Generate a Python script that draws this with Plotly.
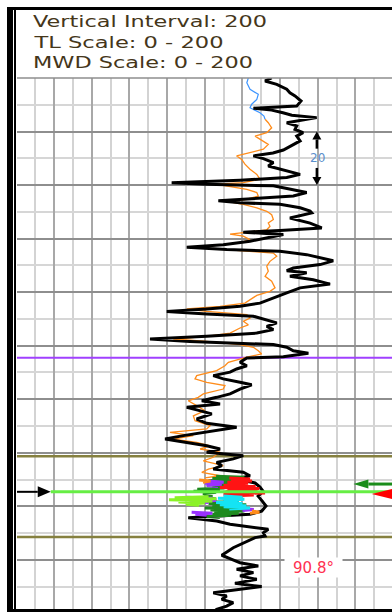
import json
import plotly.graph_objects as go

# ---------------- log data ----------------
# depth in ft below the top of the 200 ft window, gamma ray in API (0 - 200)

# MWD gamma ray (black)
mwd_depth = [
    0.0, 1.1, 2.35, 4.2, 5.5, 6.7, 8.6, 10.5, 11.3, 12.0,
    13.0, 13.9, 14.8, 16.1, 16.7, 17.9, 19.2, 20.4, 21.7, 23.5,
    25.4, 26.9, 28.0, 29.1, 30.1, 31.6, 32.9, 34.1, 35.4, 36.0,
    37.2, 38.2, 39.1, 39.7, 40.3, 42.2, 42.8, 44.1, 45.9, 46.6,
    47.2, 48.5, 49.7, 50.4, 52.3, 54.2, 56.0, 57.0, 57.6, 58.5,
    59.8, 61.0, 62.3, 63.2, 64.1, 64.7, 66.0, 67.2, 68.3, 69.7,
    71.0, 72.0, 72.8, 74.1, 75.4, 77.0, 78.4, 80.3, 82.2, 84.1,
    85.3, 86.3, 87.2, 88.2, 89.0, 90.3, 91.5, 92.8, 94.0, 95.3,
    96.5, 97.5, 98.4, 99.6, 100.6, 101.9, 102.8, 104.1, 104.6, 106.2,
    107.5, 108.7, 109.9, 111.2, 112.4, 113.7, 114.6, 116.2, 118.0, 119.3,
    120.6, 121.8, 123.0, 124.0, 125.5, 127.4, 129.0, 130.5, 132.0, 133.6,
    134.9, 136.1, 137.4, 138.6, 139.8, 141.1, 142.3, 143.6, 144.8, 146.1,
    147.3, 148.6, 149.8, 151.3, 152.8, 154.3, 156.2, 158.0, 159.9, 161.8,
    163.0, 164.3, 165.5, 166.7, 168.0, 168.6, 169.9, 171.1, 171.7, 173.6,
    175.5, 176.7, 178.3, 179.8, 181.1, 182.3, 183.5, 184.8, 186.0, 187.3,
    188.8, 190.0, 191.3, 192.3, 193.5, 194.8, 196.0, 197.3, 198.5, 199.5,
    201.0,
]
mwd_gr = [
    135.5, 132.0, 138.2, 143.5, 145.2, 147.9, 151.1, 148.8, 125.8, 135.5,
    141.5, 146.2, 159.4, 149.5, 143.5, 148.8, 147.9, 152.2, 148.8, 150.6,
    145.2, 141.7, 136.2, 125.8, 131.1, 136.4, 133.7, 139.9, 147.0, 150.6,
    143.5, 118.7, 82.4, 101.0, 136.4, 148.8, 154.1, 147.0, 107.2, 118.7,
    139.9, 150.6, 155.9, 156.8, 145.2, 155.9, 162.1, 139.9, 120.4, 141.7,
    132.9, 124.0, 109.8, 90.4, 111.6, 139.9, 154.1, 162.1, 168.2, 161.2,
    147.0, 143.5, 154.1, 145.2, 157.6, 166.5, 150.6, 143.5, 136.4, 129.3,
    118.7, 101.0, 79.8, 101.0, 125.8, 132.9, 138.2, 132.9, 136.4, 127.6,
    101.0, 70.9, 92.1, 136.4, 143.5, 147.0, 155.0, 141.7, 122.3, 118.7,
    122.3, 116.9, 113.4, 104.5, 109.8, 118.7, 124.9, 118.7, 113.4, 106.3,
    98.4, 108.1, 90.4, 95.7, 103.7, 95.7, 101.0, 116.9, 102.8, 88.6,
    78.9, 88.6, 101.0, 108.1, 101.0, 120.4, 115.1, 106.3, 109.0, 104.5,
    120.4, 124.0, 116.9, 126.7, 129.3, 130.9, 128.3, 130.4, 132.5, 130.2,
    124.0, 91.2, 106.3, 113.4, 125.8, 133.7, 131.1, 132.0, 126.7, 120.4,
    115.1, 112.5, 109.0, 114.3, 118.7, 128.4, 116.9, 125.8, 118.7, 127.6,
    116.0, 130.2, 116.9, 104.5, 111.6, 109.0, 115.1, 111.6, 106.3, 104.5,
    103.0,
]

# type log, section above the correlation window (blue)
tl_upper_depth = [0.0, 1.8, 4.2, 6.1, 8.0, 9.8, 11.1, 13.0, 14.2, 15.4]
tl_upper_gr = [123.1, 122.3, 124.0, 128.4, 127.6, 124.9, 124.0, 129.3, 131.4, 132.0]

# type log (orange)
tl_depth = [
    15.4, 16.7, 18.6, 20.4, 21.7, 22.9, 24.8, 26.6, 27.9, 29.1,
    30.4, 32.2, 34.1, 36.0, 37.8, 39.1, 39.7, 40.3, 41.6, 42.8,
    44.1, 45.3, 46.3, 47.2, 48.5, 49.8, 51.1, 52.9, 54.2, 55.4,
    56.7, 57.5, 58.3, 59.1, 60.4, 61.6, 62.9, 63.5, 64.5, 65.4,
    66.6, 68.5, 70.3, 72.2, 74.1, 75.9, 78.4, 79.7, 81.2, 82.8,
    84.1, 85.3, 86.3, 87.2, 88.4, 89.7, 90.9, 92.2, 93.4, 95.3,
    96.5, 97.5, 98.4, 99.6, 100.6, 101.9, 103.1, 104.3, 106.2, 107.5,
    109.3, 111.2, 112.4, 113.7, 114.9, 116.2, 118.0, 119.3, 120.6, 122.4,
    124.3, 126.2, 128.0, 129.9, 131.1, 132.4, 133.6, 134.9, 136.1, 137.4,
    138.6, 139.8, 141.7, 143.0, 144.8, 146.1, 147.3, 148.6, 149.4,
]
tl_gr = [
    132.0, 133.7, 135.5, 132.9, 126.7, 129.3, 133.7, 131.1, 124.0, 116.9,
    119.6, 121.3, 124.0, 127.6, 129.3, 120.4, 106.3, 110.7, 122.3, 127.6,
    128.4, 122.3, 113.4, 120.4, 127.6, 132.9, 135.5, 136.4, 133.7, 134.6,
    132.9, 124.0, 113.4, 120.4, 124.0, 118.7, 101.0, 99.2, 116.9, 136.4,
    138.2, 134.6, 132.9, 133.7, 132.0, 135.5, 137.3, 134.6, 127.6, 124.0,
    121.3, 108.1, 90.4, 101.0, 122.3, 124.0, 120.4, 123.1, 118.7, 113.4,
    101.0, 83.3, 101.0, 118.7, 125.8, 128.4, 130.2, 122.3, 112.5, 110.7,
    106.3, 95.7, 94.8, 101.0, 110.7, 109.8, 99.2, 96.5, 91.2, 95.7,
    100.1, 93.9, 94.8, 102.8, 101.0, 81.5, 93.9, 83.3, 95.7, 102.8,
    97.5, 108.1, 104.5, 99.2, 109.8, 101.9, 98.4, 108.1, 100.1,
]

# offset-well projections around the landing zone (None breaks a segment)
proj_green_depth = [148.8, 149.2, 149.6, 150.0, 150.4, 150.8, 151.2, 151.6, 152.0, 152.4,
                    152.8, 153.2, 153.6, 154.0, 154.4, 154.8, 155.3, 155.9, 156.6, 157.3,
                    158.0, 158.6, 159.0, 159.4, 159.8, 160.2, 160.6, 161.0, 161.4, 161.8,
                    162.2, 162.6, 163.0, 163.4, 163.8, 164.2]
proj_green_gr = [106, 121, 104, 119, 102, 118, 103, 116, 101, 113,
                 104, 110, 96, 108, 94, 106, 99, 104, 101, 106,
                 100, 118, 102, 122, 104, 120, 100, 124, 103, 121,
                 105, 118, 104, 114, 101, 108]
proj_purple_depth = [150.6, 151.0, 151.4, 151.8, 152.2, 152.6, None,
                     156.6, 157.0, 157.4, 157.8, 158.2, 158.6, None,
                     160.8, 161.2, 161.6, None, 162.2, 162.6, 163.0, 163.4]
proj_purple_gr = [102, 110, 100, 109, 101, 107, None,
                  90, 104, 87, 106, 92, 102, None,
                  118, 126, 120, None, 93, 104, 95, 101]
proj_red_depth = [149.4, 149.8, 150.2, 150.6, 151.0, 151.4, 151.8, 152.2, 152.6, 153.0,
                  153.4, 153.8, 154.2, 154.6, 155.0, 155.4, 155.8, 156.2]
proj_red_gr = [113, 124, 114, 125, 112, 123, 115, 110, 127, 108,
               129, 112, 128, 111, 132, 110, 126, 112]
proj_cyan_depth = [156.2, 156.6, 157.0, 157.4, 157.8, 158.2, 158.6, 159.0, 159.4, 159.8,
                   160.2, 160.6, 161.0]
proj_cyan_gr = [110, 120, 107, 121, 110, 118, 106, 120, 108, 122, 110, 124, 113]
proj_lime_depth = [156.4, 156.8, 157.2, 157.6, 158.0, 158.4, 158.8, 159.2, 159.6]
proj_lime_gr = [102, 84, 106, 81, 104, 86, 100, 90, 97]
proj_orange_depth = [150.2, 150.6, 151.0, None, 161.8, 162.2, 162.6]
proj_orange_gr = [97, 103, 99, None, 125, 129, 124]

# formation markers: marker top, target top, target line, target base
horizon_depth = [104.5, 141.3, 154.6, 171.5]
target_line_start_gr = 18.2

# right-hand target indicators
dip_arrow_depth, dip_arrow_gr = 151.7, 178.9
bit_depth, bit_gr = 155.4, 188.6

# vertical scale bar
scale_top, scale_len, scale_gr = 20.0, 20.0, 159.5

# inclination readout
inc_value, inc_depth, inc_gr = 90.8, 182.8, 157.8

header_lines = ["Vertical Interval: 200", "TL Scale: 0 - 200", "MWD Scale: 0 - 200"]

# ---------------- figure geometry ----------------
W, H = 392, 612
ML, MT = 17, 78
X_RANGE = [0.27, 199.4]
D_RANGE = [199.5, 0.0]
px_x = (W - ML) / (X_RANGE[1] - X_RANGE[0])
px_d = (H - MT) / (D_RANGE[0] - D_RANGE[1])


def head(tip_x, tip_d, direction, length_px, half_px):
    """Filled triangular arrow head, tip at (tip_x, tip_d)."""
    L, hx, hd = length_px, half_px / px_x, half_px / px_d
    if direction == "right":
        b = tip_x - L / px_x
        return [tip_x, b, b, tip_x], [tip_d, tip_d - hd, tip_d + hd, tip_d], b
    if direction == "left":
        b = tip_x + L / px_x
        return [tip_x, b, b, tip_x], [tip_d, tip_d - hd, tip_d + hd, tip_d], b
    if direction == "up":
        b = tip_d + L / px_d
        return [tip_x, tip_x - hx, tip_x + hx, tip_x], [tip_d, b, b, tip_d], b
    b = tip_d - L / px_d
    return [tip_x, tip_x - hx, tip_x + hx, tip_x], [tip_d, b, b, tip_d], b


def poly(xs, ds, color):
    return go.Scatter(x=xs, y=ds, mode="lines", fill="toself", fillcolor=color,
                      line=dict(width=0, color=color), hoverinfo="skip")


def seg(xs, ds, color, width):
    return go.Scatter(x=xs, y=ds, mode="lines", line=dict(color=color, width=width),
                      hoverinfo="skip", connectgaps=False)


fig = go.Figure()

# formation markers (below the logs)
fig.add_trace(seg(list(X_RANGE), [horizon_depth[0]] * 2, "#a040ff", 2))
fig.add_trace(seg(list(X_RANGE), [horizon_depth[1]] * 2, "#85803f", 2.5))
fig.add_trace(seg(list(X_RANGE), [horizon_depth[3]] * 2, "#85803f", 2.5))

# logs
fig.add_trace(seg(tl_gr, tl_depth, "#ff8c1a", 1.3))
fig.add_trace(seg(tl_upper_gr, tl_upper_depth, "#3d95ff", 1.2))
fig.add_trace(seg(mwd_gr, mwd_depth, "#000000", 3))

# projections
for g, d, c in [(proj_green_gr, proj_green_depth, "#1e8a1e"),
                (proj_purple_gr, proj_purple_depth, "#9a30ff"),
                (proj_red_gr, proj_red_depth, "#ff1414"),
                (proj_cyan_gr, proj_cyan_depth, "#14e4f4"),
                (proj_lime_gr, proj_lime_depth, "#8af226"),
                (proj_orange_gr, proj_orange_depth, "#ff8c1a")]:
    fig.add_trace(seg(g, d, c, 3))

# target line with the entry arrow
tdep = horizon_depth[2]
fig.add_trace(seg([target_line_start_gr, X_RANGE[1]], [tdep, tdep], "#66ee44", 3))
hx_, hd_, base = head(target_line_start_gr, tdep, "right", 13, 5.5)
fig.add_trace(seg([X_RANGE[0], base], [tdep, tdep], "#000000", 2))
fig.add_trace(poly(hx_, hd_, "#000000"))

# dip arrow and bit marker on the right
hx_, hd_, base = head(dip_arrow_gr, dip_arrow_depth, "left", 15, 4.5)
fig.add_trace(seg([base, X_RANGE[1]], [dip_arrow_depth] * 2, "#1a8c1a", 3))
fig.add_trace(poly(hx_, hd_, "#1a8c1a"))
hx_, hd_, _ = head(bit_gr, bit_depth, "left", 26, 6.5)
fig.add_trace(poly(hx_, hd_, "#ff0000"))

# vertical scale bar
top_x, top_d, top_b = head(scale_gr, scale_top, "up", 8, 4.5)
bot_x, bot_d, bot_b = head(scale_gr, scale_top + scale_len, "down", 8, 4.5)
mid = scale_top + scale_len / 2
gap = 3.6
fig.add_trace(seg([scale_gr, scale_gr, None, scale_gr, scale_gr],
                  [top_b, mid - gap, None, mid + gap, bot_b], "#000000", 2.5))
fig.add_trace(poly(top_x, top_d, "#000000"))
fig.add_trace(poly(bot_x, bot_d, "#000000"))

annotations = [
    dict(x=scale_gr, y=mid, xref="x", yref="y", text=f"{scale_len:g}", showarrow=False,
         font=dict(family="DejaVu Sans", size=12, color="#5a8fcc"), xshift=1),
    dict(x=inc_gr, y=inc_depth, xref="x", yref="y", text=f"{inc_value}°", showarrow=False,
         font=dict(family="DejaVu Sans", size=15, color="#ff3050"),
         bgcolor="white", width=57, height=19, borderpad=0),
]
plot_h = H - MT
for i, line in enumerate(header_lines):
    annotations.append(dict(
        x=(30.7 - ML) / (W - ML), y=(H - (21.5 + 21 * i)) / plot_h,
        xref="paper", yref="paper", xanchor="left", yanchor="middle",
        text=line, showarrow=False,
        font=dict(family="DejaVu Sans", size=15, color="#45361a")))


def px_to_paper_x(px):
    return (px - ML) / (W - ML)


def px_to_paper_y(py):
    return (H - py) / plot_h


shapes = [
    # outer frame: heavy left bar, thin inner rule, top and bottom rules
    dict(type="rect", xref="paper", yref="paper", x0=px_to_paper_x(7), x1=px_to_paper_x(13),
         y0=px_to_paper_y(H + 2), y1=px_to_paper_y(7.3), fillcolor="black", line=dict(width=0)),
    dict(type="line", xref="paper", yref="paper", x0=px_to_paper_x(15), x1=px_to_paper_x(15),
         y0=px_to_paper_y(H + 2), y1=px_to_paper_y(8.5), line=dict(color="black", width=2)),
    dict(type="line", xref="paper", yref="paper", x0=px_to_paper_x(7), x1=px_to_paper_x(W + 2),
         y0=px_to_paper_y(8.6), y1=px_to_paper_y(8.6), line=dict(color="black", width=3)),
    dict(type="line", xref="paper", yref="paper", x0=px_to_paper_x(7), x1=px_to_paper_x(W + 2),
         y0=px_to_paper_y(610.6), y1=px_to_paper_y(610.6), line=dict(color="black", width=3)),
    # top of the log grid
    dict(type="line", xref="paper", yref="paper", x0=0, x1=1, y0=1, y1=1,
         line=dict(color="#8e8e8e", width=1.5)),
]

fig.update_layout(
    width=W, height=H,
    margin=dict(l=ML, r=0, t=MT, b=0, pad=0),
    paper_bgcolor="white", plot_bgcolor="white",
    showlegend=False,
    annotations=annotations,
    shapes=shapes,
    xaxis=dict(range=X_RANGE, showticklabels=False, ticks="", zeroline=False,
               showgrid=True, dtick=20, tick0=0, gridcolor="#a8a8a8", gridwidth=2,
               minor=dict(dtick=10, tick0=0, showgrid=True, gridcolor="#d3d3d3", gridwidth=1.6),
               showline=False, fixedrange=True),
    yaxis=dict(range=D_RANGE, showticklabels=False, ticks="", zeroline=False,
               showgrid=True, dtick=20, tick0=0, gridcolor="#8e8e8e", gridwidth=1.5,
               minor=dict(dtick=10, tick0=0, showgrid=True, gridcolor="#d6d6d6", gridwidth=1.6),
               showline=False, fixedrange=True),
)

# header lines use a wide face: stretch each line to its set width
header_widths = dict(zip(header_lines, [234, 189, 220]))
post = """
var gd = document.getElementById('{plot_id}');
var widths = %s;
gd.querySelectorAll('text.annotation-text').forEach(function (t) {
  var w = widths[t.textContent];
  if (!w) return;
  var b0 = t.getBBox();
  t.setAttribute('textLength', w);
  t.setAttribute('lengthAdjust', 'spacingAndGlyphs');
  var b1 = t.getBBox();
  t.setAttribute('transform', 'translate(' + (b0.x - b1.x) + ',0)');
});
""" % json.dumps(header_widths)

fig.write_html("out.html", post_script=post, config={"displayModeBar": False})
